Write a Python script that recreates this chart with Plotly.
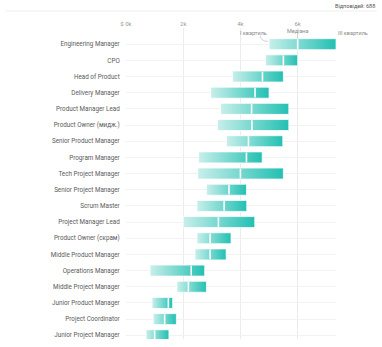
import plotly.graph_objects as go

roles = ["Engineering Manager", "CPO", "Head of Product", "Delivery Manager",
         "Product Manager Lead", "Product Owner (мидж.)", "Senior Product Manager",
         "Program Manager", "Tech Project Manager", "Senior Project Manager",
         "Scrum Master", "Project Manager Lead", "Product Owner (скрам)",
         "Middle Product Manager", "Operations Manager", "Middle Project Manager",
         "Junior Product Manager", "Project Coordinator", "Junior Project Manager"]
q1 = [5000, 4870, 3720, 2960, 3310, 3200, 3510, 2540, 2510, 2810, 2480, 2000, 2480,
      2410, 840, 1780, 910, 950, 700]
median = [6000, 5500, 4770, 4510, 4390, 4400, 4280, 4210, 4000, 3600, 3430, 3230, 2940,
          2940, 2280, 2180, 1480, 1350, 1000]
q3 = [7340, 6000, 5500, 5000, 5690, 5690, 5480, 4760, 5500, 4210, 4220, 4500, 3670,
      3500, 2750, 2810, 1630, 1760, 1500]
tick_vals = [0, 2000, 4000, 6000]
tick_text = ["$ 0k", "2k", "4k", "6k"]
respondents = "Відповідей: 688"
quart_labels = ["I квартиль", "Медіана", "III квартиль"]

FONT = "Roboto, Arial"
LIGHT = "#c8efeb"
DARK = "#22c0b2"
H = 0.34

fig = go.Figure()
for i in range(len(roles)):
    fig.add_trace(go.Scatter(
        x=[q1[i], q3[i], q3[i], q1[i], q1[i]],
        y=[i - H, i - H, i + H, i + H, i - H],
        mode="lines", fill="toself",
        fillgradient=dict(type="horizontal", colorscale=[[0, LIGHT], [1, DARK]]),
        line=dict(color="rgba(255,255,255,0.75)", width=1),
        hoverinfo="skip", showlegend=False))

mx, my = [], []
for i, m in enumerate(median):
    mx += [m, m, None]
    my += [i - H + 0.04, i + H - 0.04, None]
fig.add_trace(go.Scatter(x=mx, y=my, mode="lines",
                         line=dict(color="white", width=1.6),
                         hoverinfo="skip", showlegend=False))

# connectors for quartile labels (first row)
px = 1000 / 28.6
a, m0, b = q1[0], median[0], q3[0]
conn = "#c8c8c8"
fig.add_shape(type="path", xref="x", yref="y",
              path=f"M {a - 9*px},-0.52 Q {a - 8*px},-0.17 {a - 1*px},-0.17",
              line=dict(color=conn, width=0.8))
fig.add_shape(type="path", xref="x", yref="y",
              path=f"M {b + 9*px},-0.52 Q {b + 8*px},-0.17 {b + 1*px},-0.17",
              line=dict(color=conn, width=0.8))
fig.add_shape(type="line", xref="x", yref="y", x0=m0, x1=m0, y0=-0.64, y1=-H,
              line=dict(color=conn, width=0.8))

ann_font = dict(size=5.5, color="#8a8a8a", family=FONT)
fig.add_annotation(x=a, y=-0.7, xref="x", yref="y", text=quart_labels[0],
                   showarrow=False, xanchor="right", yanchor="middle", font=ann_font)
fig.add_annotation(x=m0, y=-0.83, xref="x", yref="y", text=quart_labels[1],
                   showarrow=False, xanchor="center", yanchor="middle", font=ann_font)
fig.add_annotation(x=b, y=-0.7, xref="x", yref="y", text=quart_labels[2],
                   showarrow=False, xanchor="left", yanchor="middle", font=ann_font)

fig.add_annotation(x=1.195, y=1.072, xref="paper", yref="paper", text=respondents,
                   showarrow=False, xanchor="right", yanchor="middle",
                   font=dict(size=5.5, color="#555", family=FONT))
fig.add_shape(type="line", xref="paper", yref="paper", x0=-0.576, x1=1.195,
              y0=1.0547, y1=1.0547, line=dict(color="#eeeeee", width=1))

fig.update_layout(
    width=382, height=347,
    margin=dict(l=126, r=46, t=28, b=8),
    paper_bgcolor="white", plot_bgcolor="white",
    font=dict(family=FONT, size=6.3, color="#555"),
    xaxis=dict(side="top", range=[0, max(q3)], tickvals=tick_vals, ticktext=tick_text,
               showgrid=True, gridcolor="#ececec", gridwidth=1, zeroline=False,
               showline=False, ticks="", tickfont=dict(size=6, color="#9a9a9a"),
               fixedrange=True),
    yaxis=dict(range=[len(roles) - 0.77, -1.0], tickvals=list(range(len(roles))),
               ticktext=roles, showgrid=True, gridcolor="#f2f2f2", zeroline=False,
               showline=False, ticks="outside", ticklen=4, tickcolor="rgba(0,0,0,0)",
               tickfont=dict(size=6.3, color="#5a5a5a"), fixedrange=True),
)
fig.write_html("out.html")
